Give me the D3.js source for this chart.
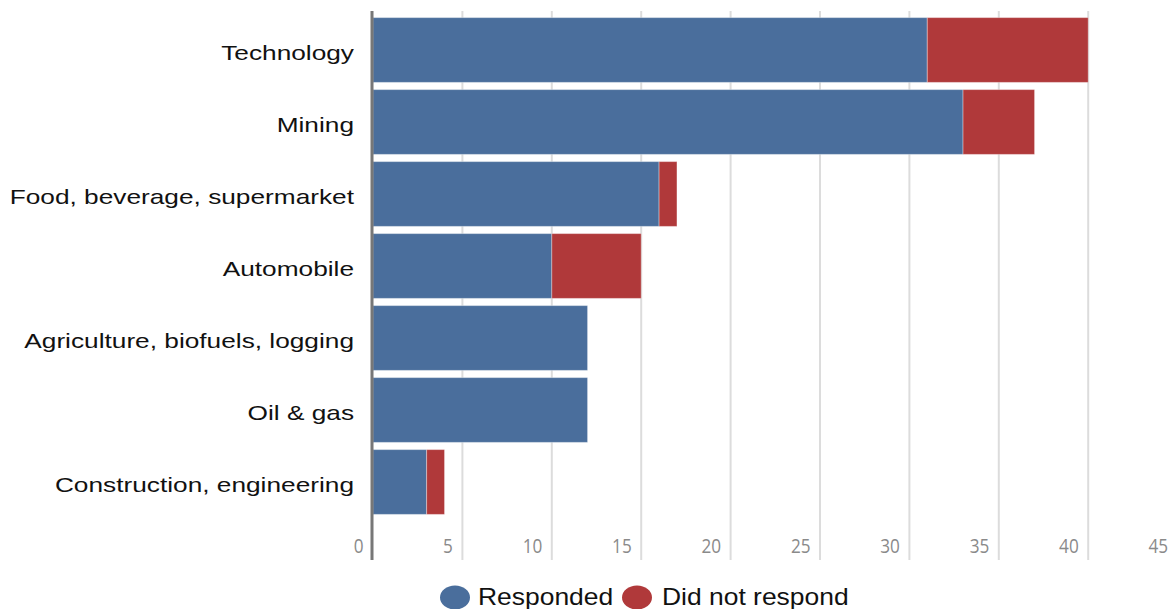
<!DOCTYPE html>
<html>
<head>
<meta charset="utf-8">
<script src="https://cdn.jsdelivr.net/npm/d3@7"></script>
<style>
  html, body { margin: 0; padding: 0; background: #fff; }
  svg { display: block; }
</style>
</head>
<body>
<svg id="chart" width="1168" height="609"></svg>
<script>
// Companies by sector, split by whether they responded
const sectors = [
  "Technology",
  "Mining",
  "Food, beverage, supermarket",
  "Automobile",
  "Agriculture, biofuels, logging",
  "Oil & gas",
  "Construction, engineering"
];
const responded    = [31, 33, 16, 10, 12, 12, 3];
const notResponded = [9, 4, 1, 5, 0, 0, 1];
const seriesNames  = ["Responded", "Did not respond"];
const xTicks       = [0, 5, 10, 15, 20, 25, 30, 35, 40, 45];

const colors = ["#4a6e9c", "#b0393a"];

const svg = d3.select("#chart");

const x = d3.scaleLinear().domain([0, 45]).range([373, 1177.6]);
const y = d3.scaleBand().domain(sectors).range([14, 518])
  .paddingInner(0.1).paddingOuter(0.05);

// vertical gridlines
svg.append("g").selectAll("line")
  .data(xTicks.filter(d => d > 0))
  .join("line")
  .attr("x1", d => x(d)).attr("x2", d => x(d))
  .attr("y1", 11).attr("y2", 560)
  .attr("stroke", "#dcdcdc").attr("stroke-width", 2);

// stacked bars
const rows = sectors.map((s, i) => ({ sector: s, Responded: responded[i], "Did not respond": notResponded[i] }));
const stacked = d3.stack().keys(seriesNames)(rows);

svg.append("g").selectAll("g")
  .data(stacked)
  .join("g")
  .attr("fill", (d, i) => colors[i])
  .selectAll("rect")
  .data(d => d.filter(p => p[1] > p[0]))
  .join("rect")
  .attr("x", d => x(d[0]))
  .attr("width", d => x(d[1]) - x(d[0]))
  .attr("y", d => y(d.data.sector))
  .attr("height", y.bandwidth())
  .attr("stroke", "rgba(255,255,255,0.35)")
  .attr("stroke-width", 1);

// baseline axis
svg.append("line")
  .attr("x1", 372).attr("x2", 372)
  .attr("y1", 11).attr("y2", 560)
  .attr("stroke", "#777").attr("stroke-width", 3);

// x tick labels
const xAxis = d3.axisBottom(x).tickValues(xTicks).tickSize(0).tickPadding(0);
const gx = svg.append("g").call(xAxis);
gx.select(".domain").remove();
gx.selectAll("text")
  .attr("text-anchor", "end")
  .attr("x", 0)
  .attr("y", 0)
  .attr("dy", 0)
  .attr("transform", "translate(-10,553) scale(0.88,1)")
  .attr("fill", "#8a8a8a")
  .style("font-family", "'Open Sans', sans-serif")
  .style("font-size", "19.5px");

// category labels
const yAxis = d3.axisLeft(y).tickSize(0).tickPadding(0);
const gy = svg.append("g").attr("transform", "translate(354,0)").call(yAxis);
gy.select(".domain").remove();
gy.selectAll("text")
  .attr("fill", "#111")
  .attr("x", 0)
  .attr("dy", "0.47em")
  .attr("transform", "scale(1.25,1)")
  .style("font-family", "'Liberation Sans', Arial, sans-serif")
  .style("font-size", "21px");

// legend
const legend = svg.append("g");
const legendItems = [
  { name: seriesNames[0], color: colors[0], cx: 455, tx: 478 },
  { name: seriesNames[1], color: colors[1], cx: 637, tx: 662 }
];
legend.selectAll("ellipse")
  .data(legendItems)
  .join("ellipse")
  .attr("cx", d => d.cx).attr("cy", 597.5)
  .attr("rx", 15).attr("ry", 12)
  .attr("fill", d => d.color);
legend.selectAll("text")
  .data(legendItems)
  .join("text")
  .attr("transform", d => `translate(${d.tx},605) scale(1.15,1)`)
  .attr("fill", "#111")
  .style("font-family", "'Liberation Sans', Arial, sans-serif")
  .style("font-size", "23px")
  .text(d => d.name);
</script>
</body>
</html>
